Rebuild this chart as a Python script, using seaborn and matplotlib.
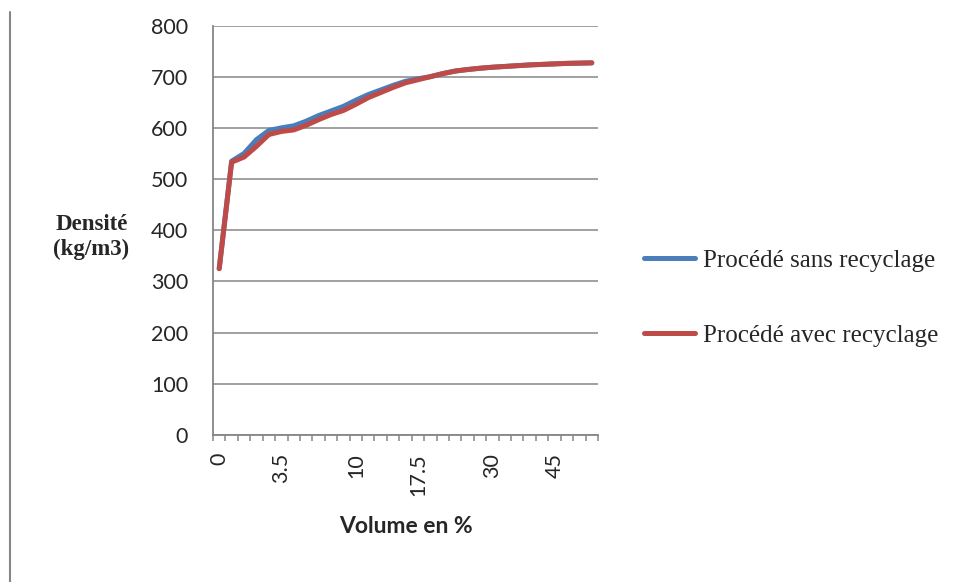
import numpy as np
import pandas as pd
import matplotlib
matplotlib.use('Agg')
import matplotlib.pyplot as plt
from matplotlib.lines import Line2D
from matplotlib.ticker import FixedLocator
import seaborn as sns

# Données : volume distillé (%) vs densité (kg/m3)
volume = [0, 0.5, 1, 1.5, 2.5, 3.5, 4.5, 5.5, 6.5, 7.5, 8.5, 10, 11.5, 13, 14.5,
          16, 17.5, 19.5, 22, 24.5, 27, 28.5, 30, 32.5, 35, 38, 41.5, 45, 48, 51, 54]
sans_recyclage = [325, 535, 550, 577, 595, 600, 604, 613, 624, 633, 642, 654, 665, 674, 683,
                  691, 696, 700, 706, 711, 714, 716.5, 718.5, 720, 721.5, 723, 724, 725, 726, 726.5, 727]
avec_recyclage = [325, 533, 543, 564, 587, 593, 596, 605, 616, 626, 634, 646, 659, 669, 679,
                  688, 694, 700, 706, 711, 714, 716.5, 718.5, 720, 721.5, 723, 724, 725, 726, 726.5, 727]
labels_affiches = ['0', '3.5', '10', '17.5', '30', '45']
series = ['Procédé sans recyclage', 'Procédé avec recyclage']
couleurs = ['#4A7EBB', '#BE4B48']

pos = np.arange(len(volume))
df = pd.DataFrame({
    'pos': np.concatenate([pos, pos]),
    'volume': [f"{v:g}" for v in volume] * 2,
    'densite': sans_recyclage + avec_recyclage,
    'procede': [series[0]] * len(volume) + [series[1]] * len(volume),
})

sns.set_theme(style="white")
plt.rcParams['font.family'] = ['Lato', 'DejaVu Sans']
gris = '#868686'

fig = plt.figure(figsize=(9.57, 5.82), dpi=100)
ax = fig.add_axes([213 / 957, 1 - 435 / 582, 385 / 957, 409.5 / 582])

sns.lineplot(data=df, x='pos', y='densite', hue='procede', hue_order=series,
             palette=couleurs, linewidth=3.6, ax=ax, legend=False)

ax.set_xlim(-0.5, len(volume) - 0.5)
ax.set_ylim(0, 800)
ax.set_yticks(range(0, 801, 100))
ax.yaxis.grid(True, color=gris, linewidth=1.1)
ax.set_axisbelow(True)

# étiquettes x : seulement certaines catégories
idx = [i for i, v in enumerate(volume) if f"{v:g}" in labels_affiches]
ax.set_xticks(idx)
ax.set_xticklabels([f"{volume[i]:g}" for i in idx], rotation=90, fontsize=15.5)
ax.xaxis.set_minor_locator(FixedLocator(np.arange(-0.5, len(volume), 1)))
ax.tick_params(axis='x', which='major', length=0, pad=13)
ax.tick_params(axis='x', which='minor', length=4.5, width=1.1, color=gris, bottom=True)
ax.tick_params(axis='y', length=0, pad=18, labelsize=15.5)

for s in ['top', 'right']:
    ax.spines[s].set_visible(False)
for s in ['left', 'bottom']:
    ax.spines[s].set_color(gris)
    ax.spines[s].set_linewidth(1.3)

ax.set_xlabel('Volume en %', fontsize=16.5, fontweight='bold')
ax.xaxis.set_label_coords(0.5, -0.198)
ax.set_ylabel('Densité\n(kg/m3)', rotation=0, fontsize=16.5, fontweight='bold',
              family=['Liberation Serif'], ha='center', va='center', linespacing=1.2)
ax.yaxis.set_label_coords((91.5 - 213) / 385, (435 - 237) / 409.5)

handles = [Line2D([], [], color=c, linewidth=3.6) for c in couleurs]
fig.legend(handles, series, loc='center left', bbox_to_anchor=(644 / 957, 1 - 298 / 582),
           frameon=False, prop={'family': 'Liberation Serif', 'size': 18},
           handlelength=2.05, handletextpad=0.3, labelspacing=2.1,
           borderpad=0, borderaxespad=0)

# trait vertical de la page à gauche
fig.add_artist(Line2D([10 / 957, 10 / 957], [0, 1 - 12 / 582], color=gris, linewidth=1.5))

fig.savefig('out.png', dpi=100)
